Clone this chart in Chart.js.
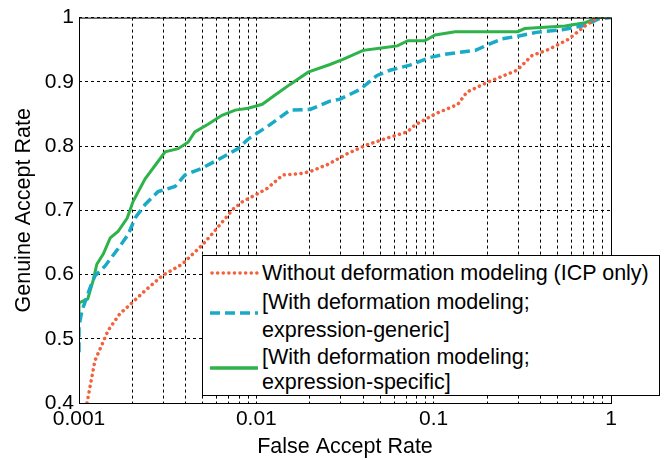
<!DOCTYPE html>
<html lang="en">
<head>
  <meta charset="UTF-8" />
  <title>ROC curves</title>
  <script src="https://cdn.jsdelivr.net/npm/chart.js"></script>
  <style>
    body { margin: 0; background: #ffffff; font-family: "Liberation Sans", Arial, sans-serif; }
    .wrap { position: relative; width: 670px; height: 460px; }
    canvas { position: absolute; left: 0; top: 0; }
    .legend { position: absolute; left: 202px; top: 255px; width: 456px; height: 139px;
              border: 1px solid #000; background: #fff; }
    .legend .txt { position: absolute; left: 59px; font-size: 21.5px; line-height: 24px; color: #000; white-space: nowrap; }
    .legend svg { position: absolute; left: 7px; }
  </style>
</head>
<body>
  <div class="wrap">
    <canvas id="roc" width="670" height="460"></canvas>
    <div class="legend">
      <svg width="50" height="8" style="top:13px"><line x1="2" y1="4" x2="48" y2="4" stroke="#f2603c" stroke-width="3.5" stroke-linecap="round" stroke-dasharray="0.1 5.5"/></svg>
      <div class="txt" style="top:5px">Without deformation modeling (ICP only)</div>
      <svg width="50" height="8" style="top:53px"><line x1="0" y1="4" x2="48" y2="4" stroke="#19aac6" stroke-width="3.5" stroke-dasharray="10 5"/></svg>
      <div class="txt" style="top:34px">[With deformation modeling;</div>
      <div class="txt" style="top:62px">expression-generic]</div>
      <svg width="50" height="8" style="top:108px"><line x1="0" y1="4" x2="48" y2="4" stroke="#2db34a" stroke-width="3.5"/></svg>
      <div class="txt" style="top:89px">[With deformation modeling;</div>
      <div class="txt" style="top:114px">expression-specific]</div>
    </div>
  </div>

  <script>
    // tick labels and grid positions
    const xTickLabels = [0.001, 0.01, 0.1, 1];
    const xGrid = [0.001, 0.002, 0.003, 0.004, 0.005, 0.006, 0.007, 0.008, 0.009,
                   0.01, 0.02, 0.03, 0.04, 0.05, 0.06, 0.07, 0.08, 0.09,
                   0.1, 0.2, 0.3, 0.4, 0.5, 0.6, 0.7, 0.8, 0.9, 1];
    const yTicks = [0.4, 0.5, 0.6, 0.7, 0.8, 0.9, 1];

    // Without deformation modeling (ICP only)
    const icpFar = [0.00111, 0.00123, 0.00146, 0.0017, 0.00199, 0.00236, 0.00294, 0.00381, 0.005, 0.006,
                    0.0074, 0.0084, 0.0096, 0.0115, 0.0141, 0.0176, 0.02, 0.0251, 0.0284, 0.0325,
                    0.0421, 0.0568, 0.0708, 0.0786, 0.102, 0.137, 0.154, 0.2, 0.295, 0.359,
                    0.442, 0.573, 0.714, 0.845, 1];
    const icpGar = [0.4, 0.466, 0.513, 0.539, 0.556, 0.575, 0.598, 0.616, 0.647, 0.672,
                    0.702, 0.714, 0.722, 0.734, 0.755, 0.757, 0.76, 0.771, 0.779, 0.788,
                    0.802, 0.814, 0.822, 0.833, 0.85, 0.865, 0.884, 0.899, 0.918, 0.941,
                    0.95, 0.966, 0.987, 1.0, 1.0];

    // With deformation modeling; expression-generic
    const genFar = [0.001, 0.001, 0.00104, 0.00115, 0.00123, 0.0014, 0.00166, 0.0019, 0.00207, 0.00236,
                    0.00279, 0.00348, 0.00396, 0.0049, 0.0061, 0.0079, 0.009, 0.0119, 0.0155, 0.0201,
                    0.026, 0.0296, 0.0384, 0.048, 0.0567, 0.0736, 0.0954, 0.116, 0.172, 0.203,
                    0.243, 0.298, 0.38, 0.53, 0.714, 0.85, 1];
    const genGar = [0.479, 0.52, 0.544, 0.578, 0.598, 0.613, 0.64, 0.663, 0.688, 0.709,
                    0.729, 0.737, 0.755, 0.765, 0.779, 0.796, 0.811, 0.833, 0.856, 0.857,
                    0.87, 0.873, 0.888, 0.91, 0.918, 0.926, 0.938, 0.943, 0.949, 0.958,
                    0.967, 0.971, 0.977, 0.981, 0.988, 0.998, 1.0];

    // With deformation modeling; expression-specific
    const specFar = [0.001, 0.001, 0.00112, 0.0012, 0.00126, 0.00137, 0.0015, 0.00166, 0.00187, 0.00202,
                     0.00212, 0.00236, 0.00279, 0.00306, 0.00362, 0.00412, 0.0045, 0.00534, 0.0064, 0.0076,
                     0.009, 0.0108, 0.0127, 0.0155, 0.0196, 0.026, 0.0308, 0.04, 0.052, 0.0623,
                     0.0716, 0.089, 0.102, 0.132, 0.298, 0.326, 0.55, 0.714, 0.845, 1];
    const specGar = [0.533, 0.556, 0.562, 0.59, 0.616, 0.632, 0.657, 0.667, 0.688, 0.714,
                     0.725, 0.749, 0.776, 0.791, 0.796, 0.806, 0.822, 0.834, 0.848, 0.856,
                     0.859, 0.865, 0.879, 0.896, 0.915, 0.927, 0.935, 0.949, 0.953, 0.956,
                     0.964, 0.964, 0.973, 0.978, 0.978, 0.983, 0.987, 0.992, 1.0, 1.0];

    const pts = (xs, ys) => xs.map((x, i) => ({ x: x, y: ys[i] }));

    // frame around the plot area, MATLAB style
    const frame = {
      id: 'frame',
      afterDatasetsDraw(chart) {
        const a = chart.chartArea, ctx = chart.ctx;
        ctx.save();
        ctx.strokeStyle = '#000';
        ctx.lineWidth = 1;
        ctx.setLineDash([]);
        ctx.strokeRect(a.left + 0.5, a.top + 0.5, a.right - a.left, a.bottom - a.top);
        ctx.restore();
      }
    };

    const tickFont = { family: '"Liberation Sans", Arial, sans-serif', size: 21 };
    const titleFont = { family: '"Liberation Sans", Arial, sans-serif', size: 21.5 };

    new Chart(document.getElementById('roc'), {
      type: 'line',
      data: {
        datasets: [
          { label: 'Without deformation modeling (ICP only)', data: pts(icpFar, icpGar),
            borderColor: '#f2603c', borderWidth: 3.5, borderDash: [0.1, 5.5], borderCapStyle: 'round' },
          { label: '[With deformation modeling; expression-generic]', data: pts(genFar, genGar),
            borderColor: '#19aac6', borderWidth: 3.5, borderDash: [10, 5] },
          { label: '[With deformation modeling; expression-specific]', data: pts(specFar, specGar),
            borderColor: '#2db34a', borderWidth: 3 }
        ]
      },
      options: {
        responsive: false,
        animation: false,
        events: [],
        elements: { point: { radius: 0 }, line: { tension: 0 } },
        layout: { padding: { left: 0, right: 59, top: 15, bottom: 0 } },
        plugins: { legend: { display: false }, tooltip: { enabled: false } },
        scales: {
          x: {
            type: 'logarithmic', min: 0.001, max: 1,
            afterBuildTicks: s => { s.ticks = xGrid.map(v => ({ value: v })); },
            afterFit: s => { s.height = 57; },
            ticks: {
              autoSkip: false, maxRotation: 0, color: '#000', font: tickFont, padding: 4,
              callback: v => xTickLabels.includes(v) ? String(v) : ''
            },
            grid: { color: '#000', lineWidth: 1, drawTicks: false },
            border: { display: false, dash: [3, 3] },
            title: { display: true, text: 'False Accept Rate', color: '#000', font: titleFont, padding: { top: 0, bottom: 0 } }
          },
          y: {
            min: 0.4, max: 1,
            afterBuildTicks: s => { s.ticks = yTicks.map(v => ({ value: v })); },
            afterFit: s => { s.width = 79; },
            ticks: { color: '#000', font: tickFont, padding: 5, callback: v => String(Math.round(v * 10) / 10) },
            grid: { color: '#000', lineWidth: 1, drawTicks: false },
            border: { display: false, dash: [3, 3] },
            title: { display: true, text: 'Genuine Accept Rate', color: '#000', font: titleFont, padding: { top: 11, bottom: 0 } }
          }
        }
      },
      plugins: [frame]
    });
  </script>
</body>
</html>
